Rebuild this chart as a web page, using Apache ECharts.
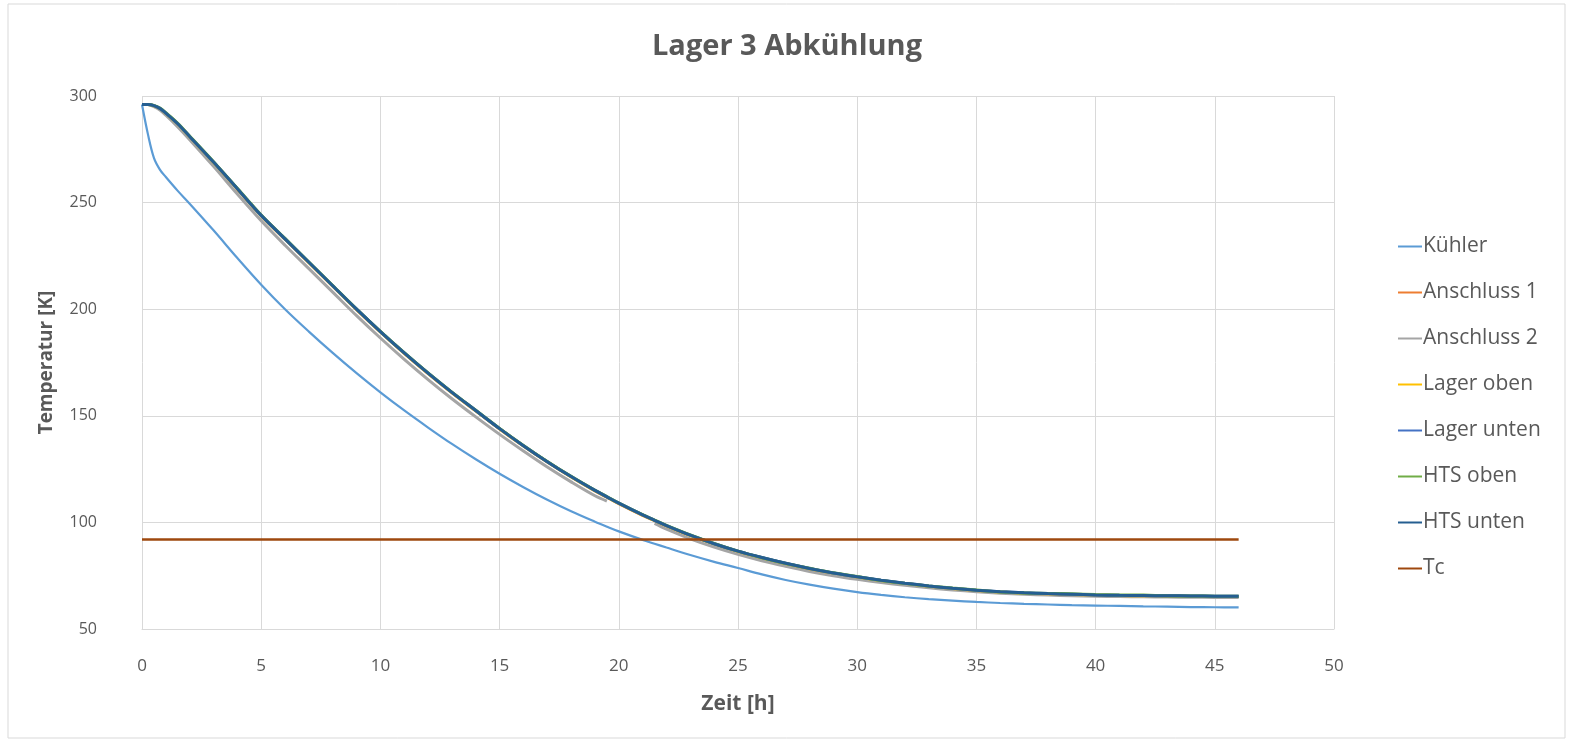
<!DOCTYPE html>
<html>
<head>
<meta charset="utf-8">
<script src="https://cdn.jsdelivr.net/npm/echarts@6/dist/echarts.min.js"></script>
<style>
html,body{margin:0;padding:0;background:#fff;}
#c{width:1574px;height:746px;}
</style>
</head>
<body>
<div id="c"></div>
<script>
// ---- Data ----
const title = 'Lager 3 Abkühlung';
const seriesNames = ['Kühler','Anschluss 1','Anschluss 2','Lager oben','Lager unten','HTS oben','HTS unten','Tc'];
const timeH = [0,0.25,0.5,0.75,1,1.5,2,3,4,5,6,7,8,9,10,11,12,13,14,15,16,17,18,19,19.5,20,21,21.5,22,23,24,25,26,27,28,29,30,31,32,33,34,35,36,37,38,39,40,41,42,43,44,45,46];
const kuehler = [296,282,271,265.5,262,255.5,249.5,237,224,211.5,200,189.5,179.5,170,161,152.5,144.5,136.8,129.6,122.8,116.5,110.6,105.2,100.3,98,95.8,91.8,90,88.2,84.7,81.5,78.6,75.6,73,70.8,68.9,67.3,66,64.9,64,63.3,62.7,62.2,61.8,61.5,61.2,61,60.8,60.6,60.5,60.3,60.2,60.1];
const anschluss1 = [296,296,295.4,294,291.8,286.8,280.8,268.8,256.3,243.8,232.8,221.8,210.8,199.8,189.3,179.3,169.8,160.8,152.3,143.8,135.8,128.3,121.3,114.8,111.8,108.8,103.3,100.8,98.3,93.8,89.8,86.3,83.3,80.6,78.2,76.1,74.3,72.7,71.3,70,68.9,68,67.3,66.8,66.4,66.1,65.8,65.6,65.5,65.4,65.3,65.2,65.2];
const anschluss2 = [296,296,295,293.4,291,285.5,279.5,267,254,241.5,230,219,208,197,186.5,176.5,167,158,149.5,141.3,133.5,126,119,112.5,110,null,null,99.5,96.8,92.3,88.4,85,82,79.4,77,75,73.3,71.8,70.5,69.3,68.3,67.5,66.8,66.3,65.9,65.6,65.4,65.2,65.1,65,64.9,64.8,64.8];
const lagerOben = [296,296,295.4,294.1,291.9,286.9,280.9,268.9,256.4,243.9,232.9,221.9,210.9,199.9,189.4,179.4,169.9,160.9,152.4,143.9,135.9,128.4,121.4,114.9,111.9,108.9,103.4,100.9,98.4,93.9,89.9,86.4,83.4,80.7,78.3,76.2,74.4,72.8,71.4,70.1,69,68.1,67.4,66.9,66.5,66.2,65.9,65.7,65.6,65.5,65.4,65.3,65.3];
const lagerUnten = [296,296,295.5,294.2,292,287,281,269,256.5,244,233,222,211,200,189.5,179.5,170,161,152.5,144,136,128.5,121.5,115,112,109,103.5,101,98.5,94,90,86.5,83.5,80.8,78.4,76.3,74.5,72.9,71.5,70.2,69.1,68.2,67.5,67,66.6,66.3,66,65.8,65.7,65.6,65.5,65.4,65.4];
const htsOben = [296,296,295.6,294.4,292.2,287.2,281.2,269.2,256.7,244.2,233.2,222.1,211.1,200.1,189.6,179.6,170.1,161.1,152.6,144.1,136.1,128.6,121.6,115.1,112.1,109.1,103.6,101.1,98.6,94.1,90.1,86.5,83.4,80.7,78.5,76.4,74.6,72.8,71.4,70.2,69.2,68.3,67.4,66.9,66.7,66.5,66.2,66,65.9,65.6,65.5,65.4,65.4];
const htsUnten = [296,296,295.5,294.2,292,287,281,269,256.5,244,233,222,211,200,189.5,179.5,170,161,152.5,144,136,128.5,121.5,115,112,109,103.5,101,98.5,94,90,86.5,83.5,80.8,78.4,76.3,74.5,72.9,71.5,70.2,69.1,68.2,67.5,67,66.6,66.3,66,65.8,65.7,65.6,65.5,65.4,65.4];
const tcTime = [0,46];
const tcValue = [92,92];
const xTicks = [0,5,10,15,20,25,30,35,40,45,50];
const yTicks = [50,100,150,200,250,300];

// ---- Chart ----
const colors = ['#5B9BD5','#ED7D31','#A5A5A5','#FFC000','#4472C4','#70AD47','#255E91','#9E480E'];
const values = [kuehler,anschluss1,anschluss2,lagerOben,lagerUnten,htsOben,htsUnten];
const FONT = 'Open Sans';
const series = values.map((v,i)=>({
  name: seriesNames[i],
  type:'line',
  data: timeH.map((t,j)=>[t,v[j]]),
  smooth:0.35,
  showSymbol:false, symbol:'none',
  connectNulls:false,
  lineStyle:{width: i===0?2.2:3, color: colors[i]},
  itemStyle:{color: colors[i]},
  z: 2+i,
  animation:false
}));
series.push({
  name: seriesNames[7], type:'line',
  data: tcTime.map((t,j)=>[t,tcValue[j]]),
  showSymbol:false, symbol:'none',
  lineStyle:{width:2.6,color:colors[7]}, itemStyle:{color:colors[7]},
  z: 10, animation:false
});

const chart = echarts.init(document.getElementById('c'), null, {renderer:'canvas'});
chart.setOption({
  animation:false,
  backgroundColor:'#fff',
  color: colors,
  textStyle:{fontFamily:FONT},
  title:{text:title, left:'center', top:27, textStyle:{fontFamily:FONT, fontSize:29, fontWeight:'bold', color:'#595959'}},
  graphic:[{type:'rect', shape:{x:8,y:4,width:1557,height:734}, style:{fill:'none', stroke:'#D9D9D9', lineWidth:1}, silent:true}],
  grid:{left:142, top:96, width:1192, height:533, containLabel:false},
  legend:{
    orient:'vertical', left:1393, top:231, itemGap:25, itemWidth:24, itemHeight:2,
    icon:'rect', data: seriesNames,
    textStyle:{fontFamily:FONT, fontSize:21, color:'#595959', padding:[0,0,0,-4]}
  },
  xAxis:{
    type:'value', min:0, max:50, interval:5,
    name:'Zeit [h]', nameLocation:'middle', nameGap:65,
    nameTextStyle:{fontFamily:FONT, fontSize:21, fontWeight:'bold', color:'#595959'},
    axisLine:{show:true, lineStyle:{color:'#D9D9D9', width:1}},
    axisTick:{show:false},
    axisLabel:{fontFamily:FONT, fontSize:17, color:'#595959', margin:29, formatter:v=>xTicks.includes(v)?String(v):''},
    splitLine:{show:true, lineStyle:{color:'#D9D9D9', width:1}}
  },
  yAxis:{
    type:'value', min:50, max:300, interval:50,
    name:'Temperatur [K]', nameLocation:'middle', nameGap:86, nameRotate:90,
    nameTextStyle:{fontFamily:FONT, fontSize:19, fontWeight:'bold', color:'#595959'},
    axisLine:{show:false}, axisTick:{show:false},
    axisLabel:{fontFamily:FONT, fontSize:16, color:'#595959', margin:45, formatter:v=>yTicks.includes(v)?String(v):''},
    splitLine:{show:true, lineStyle:{color:'#D9D9D9', width:1}}
  },
  series: series
});
</script>
</body>
</html>
